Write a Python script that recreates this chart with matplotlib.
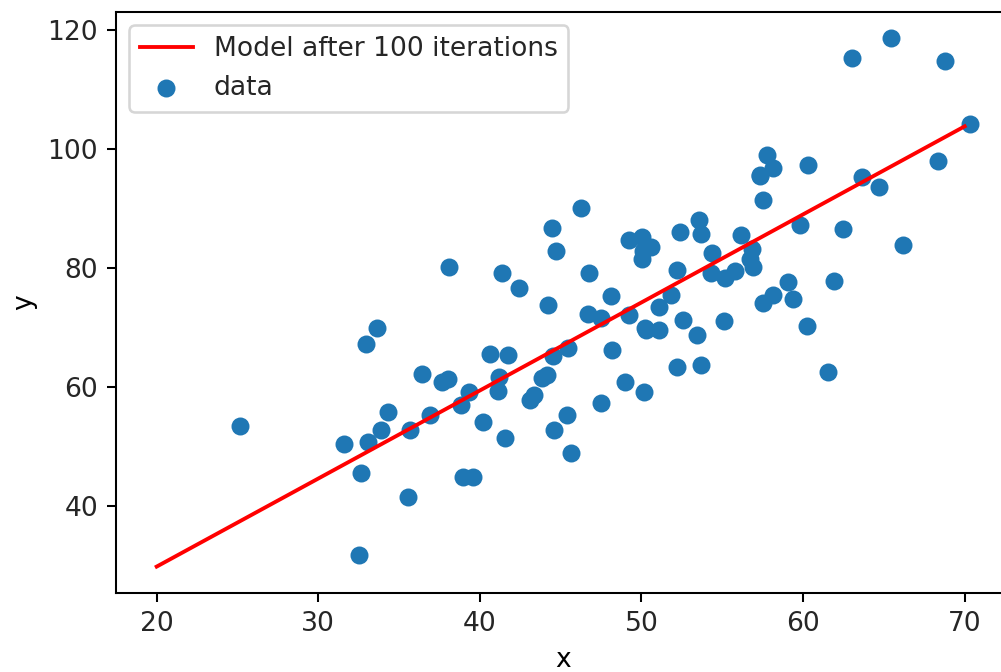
import matplotlib
matplotlib.use("Agg")
import matplotlib.pyplot as plt
import numpy as np

# data points (x, y)
x_data = [32.50, 53.43, 61.53, 47.48, 59.81, 55.14, 52.21, 39.30, 48.11, 52.55,
          45.42, 54.35, 44.16, 58.17, 56.73, 48.96, 44.69, 60.30, 45.62, 38.82,
          66.19, 65.42, 47.48, 41.58, 51.85, 59.37, 57.31, 63.62, 46.74, 50.56,
          52.22, 35.57, 42.44, 58.16, 57.50, 45.44, 61.90, 33.09, 36.44, 37.68,
          44.56, 43.32, 50.07, 43.87, 63.00, 32.67, 40.17, 53.58, 33.86, 64.71,
          38.12, 44.50, 40.60, 41.72, 51.09, 55.08, 41.38, 62.49, 49.20, 41.10,
          41.18, 50.19, 52.38, 50.14, 33.64, 39.56, 56.13, 57.36, 60.27, 35.68,
          31.59, 53.66, 46.68, 43.11, 70.35, 44.49, 57.50, 36.93, 55.81, 38.95,
          56.90, 56.87, 34.33, 59.05, 57.79, 54.28, 51.09, 50.28, 44.21, 38.01,
          32.94, 53.69, 68.77, 46.23, 68.32, 50.03, 49.24, 50.04, 48.15, 25.13]
y_data = [31.71, 68.78, 62.56, 71.55, 87.23, 78.21, 79.64, 59.17, 75.33, 71.30,
          55.17, 82.48, 62.01, 75.39, 81.44, 60.72, 82.89, 97.38, 48.85, 56.88,
          83.88, 118.59, 57.25, 51.39, 75.38, 74.77, 95.46, 95.23, 79.05, 83.43,
          63.36, 41.41, 76.62, 96.77, 74.08, 66.59, 77.77, 50.72, 62.12, 60.81,
          52.68, 58.57, 82.91, 61.42, 115.24, 45.57, 54.08, 87.99, 52.73, 93.58,
          80.17, 65.10, 65.56, 65.28, 73.43, 71.14, 79.10, 86.52, 84.74, 59.36,
          61.68, 69.85, 86.10, 59.11, 69.90, 44.86, 85.50, 95.54, 70.25, 52.72,
          50.39, 63.64, 72.25, 57.81, 104.26, 86.64, 91.49, 55.23, 79.55, 44.85,
          80.21, 83.14, 55.72, 77.63, 99.05, 79.12, 69.59, 69.51, 73.69, 61.37,
          67.17, 85.67, 114.85, 90.12, 97.92, 81.54, 72.11, 85.23, 66.22, 53.45]

# model line endpoints
line_x = [20, 70]
line_y = [29.75, 103.8]

plt.rcParams['font.size'] = 10.3
plt.rcParams['text.color'] = '#262626'
plt.rcParams['xtick.labelcolor'] = '#262626'
plt.rcParams['ytick.labelcolor'] = '#262626'

dpi = 185
fig = plt.figure(figsize=(1001 / dpi, 672 / dpi), dpi=dpi)
ax = fig.add_axes([116 / 1001, 79 / 672, 895 / 1001, 581 / 672])

ax.plot(line_x, line_y, color="r", label="Model after 100 iterations")
ax.scatter(x_data, y_data, label="data")

ax.set_xlabel("x")
ax.set_ylabel("y")
ax.legend(loc="upper left")

fig.savefig("out.png", dpi=dpi)
